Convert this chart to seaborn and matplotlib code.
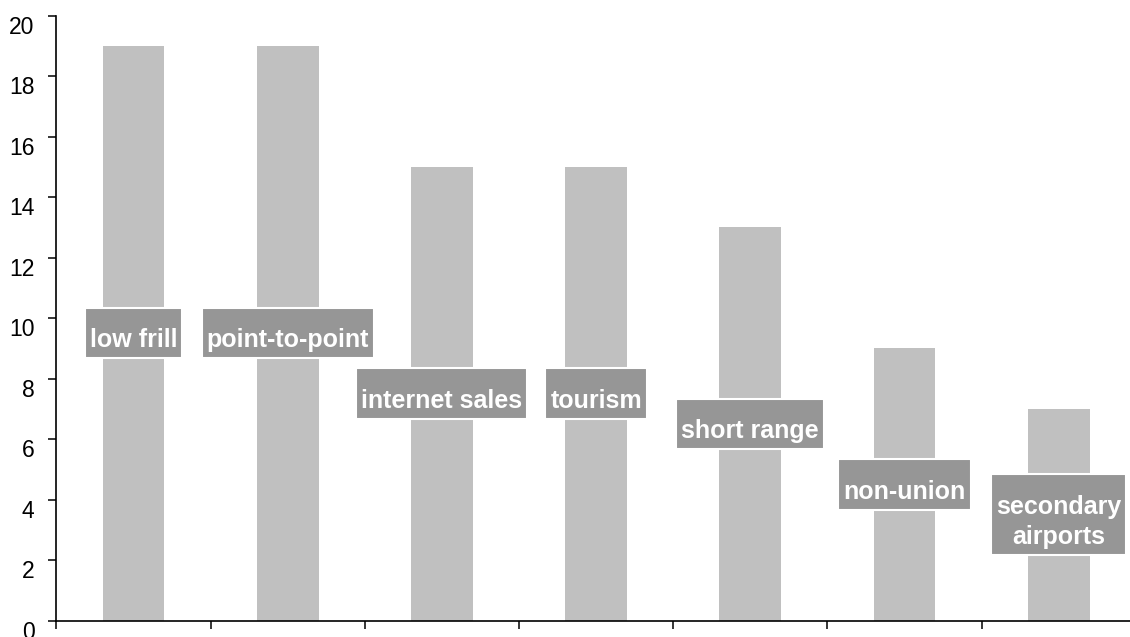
"""
Bar chart of low-cost airline traits, with each label boxed in the middle of its bar.
"""
import numpy as np
import pandas as pd
import matplotlib
matplotlib.use("Agg")
from matplotlib import pyplot as plt
from matplotlib.path import Path
import seaborn as sns

# Data
categories = ["low frill", "point-to-point", "internet sales", "tourism",
              "short range", "non-union", "secondary\nairports"]
values = [19, 19, 15, 15, 13, 9, 7]
y_ticks = list(range(0, 21, 2))

bar_color = "#c0c0c0"
box_color = "#969696"


def label_box(x0, y0, width, height, mutation_size):
    # square box: thin sides, deep top, shallow bottom
    px = 0.2 * mutation_size
    pt = 0.82 * mutation_size
    pb = 0.24 * mutation_size
    x0, x1 = x0 - px, x0 + width + px
    y0, y1 = y0 - pb, y0 + height + pt
    return Path([(x0, y0), (x1, y0), (x1, y1), (x0, y1), (x0, y0)], closed=True)


def plot(outfile):
    sns.set_style("ticks")
    plt.rcParams["font.family"] = ["Liberation Sans", "DejaVu Sans"]

    data = pd.DataFrame({"category": categories, "value": values})

    fig = plt.figure(figsize=(11.3, 6.37), dpi=100)
    left = 56.4 / 1130
    width = 7 * 154.2 / 1130
    bottom = (637 - 620.7) / 637
    height = (620.7 - 15.7) / 637
    ax = fig.add_axes([left, bottom, width, height])

    sns.barplot(
        data=data,
        x="category",
        y="value",
        color=bar_color,
        saturation=1.0,
        width=0.4,
        linewidth=0,
        ax=ax,
        zorder=2,
    )

    # Labels in grey boxes halfway up each bar
    for i, (cat, val) in enumerate(zip(categories, values)):
        ax.annotate(
            cat,
            xy=(i, val / 2),
            xytext=(0, -5),
            textcoords="offset points",
            ha="center",
            va="center",
            ma="center",
            color="white",
            weight="bold",
            fontsize=18,
            linespacing=1.32,
            zorder=5,
            bbox=dict(boxstyle=label_box, facecolor=box_color,
                      edgecolor="white", linewidth=1.5),
        )

    # Axes formatting
    ax.set_xlim(-0.5, len(categories) - 0.5)
    ax.set_ylim(0, 20)
    ax.set_yticks(y_ticks)
    ax.set_xticks(np.arange(len(categories) + 1) - 0.5)
    ax.set_xticklabels([])
    ax.set_xlabel("")
    ax.set_ylabel("")
    for side in ["top", "right"]:
        ax.spines[side].set_visible(False)
    for side in ["left", "bottom"]:
        ax.spines[side].set_linewidth(1.2)
        ax.spines[side].set_color("black")
    ax.tick_params(axis="both", direction="out", length=5.8, width=1.1,
                   color="black", labelcolor="black")
    ax.tick_params(axis="y", labelsize=16.5, pad=10)
    for lab in ax.get_yticklabels():
        lab.set_va("top")

    fig.savefig(outfile, dpi=100)


plot("out.png")
